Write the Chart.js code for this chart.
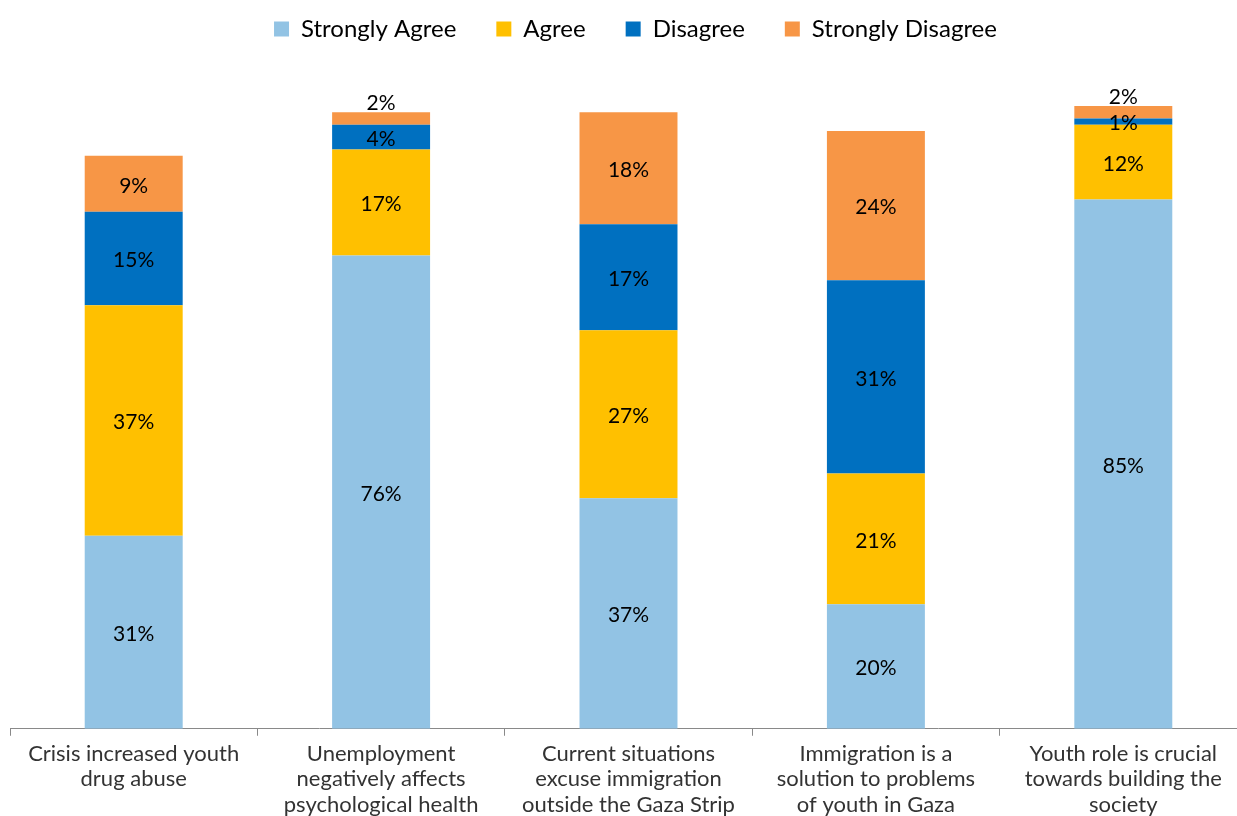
<!DOCTYPE html>
<html>
<head>
<meta charset="utf-8">
<script src="https://cdn.jsdelivr.net/npm/chart.js@4.4.1/dist/chart.umd.min.js"></script>
<style>
  html, body { margin: 0; padding: 0; background: #fff; overflow: hidden; }
  .chart-container { position: relative; width: 1257px; height: 823px; }
</style>
</head>
<body>
<div class="chart-container">
  <canvas id="chart"></canvas>
</div>
<script>
const categories = [
  ["Crisis increased youth", "drug abuse"],
  ["Unemployment", "negatively affects", "psychological health"],
  ["Current situations", "excuse immigration", "outside the Gaza Strip"],
  ["Immigration is a", "solution to problems", "of youth in Gaza"],
  ["Youth role is crucial", "towards building the", "society"]
];

const stronglyAgree = [31, 76, 37, 20, 85];
const agree = [37, 17, 27, 21, 12];
const disagree = [15, 4, 17, 31, 1];
const stronglyDisagree = [9, 2, 18, 24, 2];

// draws the % labels in the middle of each segment (tiny top ones go above the bar)
const segmentLabels = {
  id: "segmentLabels",
  afterDatasetsDraw(chart) {
    const ctx = chart.ctx;
    const last = chart.data.datasets.length - 1;
    ctx.save();
    ctx.font = "21px Lato";
    ctx.fillStyle = "#000";
    ctx.textAlign = "center";
    chart.data.datasets.forEach((ds, i) => {
      const meta = chart.getDatasetMeta(i);
      meta.data.forEach((bar, j) => {
        const v = ds.data[j];
        if (i === last && v <= 2) {
          ctx.textBaseline = "bottom";
          ctx.fillText(v + "%", bar.x, bar.y + 2);
        } else {
          ctx.textBaseline = "middle";
          ctx.fillText(v + "%", bar.x, (bar.y + bar.base) / 2 + 2);
        }
      });
    });
    ctx.restore();
  }
};

// pull the legend row up towards the top edge
const legendShift = {
  id: "legendShift",
  afterLayout(chart) {
    const lg = chart.legend;
    lg.top -= 55;
    lg.bottom -= 55;
    lg.left += 7;
    lg.right += 7;
  }
};

const canvas = document.getElementById("chart");
new Chart(canvas, {
  type: "bar",
  data: {
    labels: categories,
    datasets: [
      { label: "Strongly Agree", data: stronglyAgree, backgroundColor: "#92C3E4" },
      { label: "Agree", data: agree, backgroundColor: "#FFC000" },
      { label: "Disagree", data: disagree, backgroundColor: "#0070C0" },
      { label: "Strongly Disagree", data: stronglyDisagree, backgroundColor: "#F79646" }
    ]
  },
  options: {
    responsive: true,
    maintainAspectRatio: false,
    animation: false,
    datasets: {
      bar: { categoryPercentage: 1, barPercentage: 0.396 }
    },
    layout: { padding: { top: 32, left: 10, right: 10, bottom: 0 } },
    plugins: {
      tooltip: { enabled: false },
      legend: {
        display: true,
        position: "top",
        labels: {
          font: { family: "Lato", size: 24 },
          color: "#000",
          boxWidth: 15,
          boxHeight: 15,
          padding: 40
        }
      }
    },
    scales: {
      x: {
        stacked: true,
        grid: {
          display: true,
          offset: true,
          drawOnChartArea: false,
          drawTicks: true,
          tickLength: 7,
          color: "#898989"
        },
        border: { display: true, color: "#898989", width: 1 },
        ticks: {
          color: "#333",
          padding: 6,
          maxRotation: 0,
          autoSkip: false,
          font: { family: "Lato", size: 22, lineHeight: 1.14 }
        }
      },
      y: {
        stacked: true,
        display: false,
        min: 0,
        max: 100
      }
    }
  },
  plugins: [segmentLabels, legendShift]
});
</script>
</body>
</html>
